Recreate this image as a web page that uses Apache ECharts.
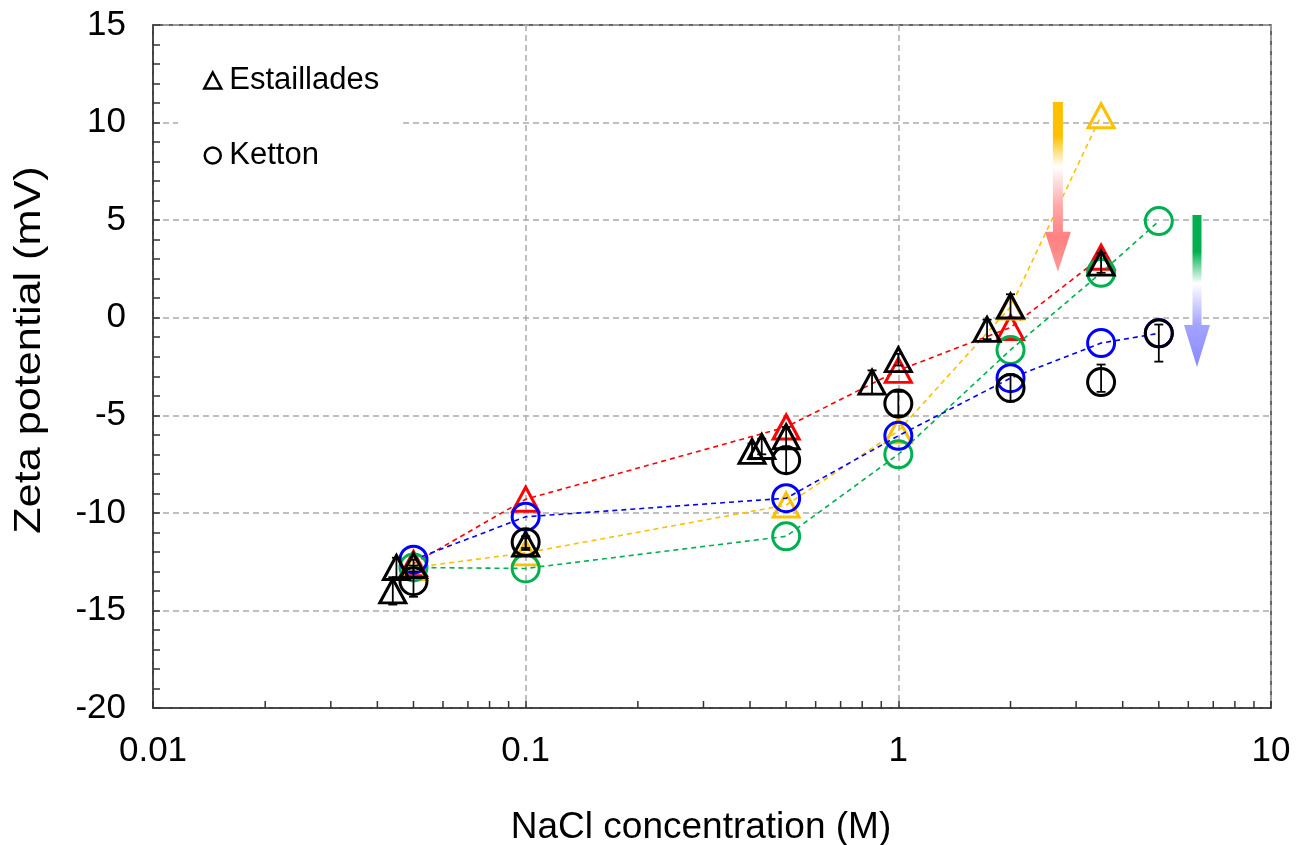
<!DOCTYPE html>
<html>
<head>
<meta charset="utf-8">
<script src="https://cdn.jsdelivr.net/npm/echarts@6/dist/echarts.min.js"></script>
<style>
html,body{margin:0;padding:0;background:#fff;}
#chart{width:1306px;height:845px;}
</style>
</head>
<body>
<div id="chart"></div>
<script>
// ---------- data ----------
const xTickLabels = ['0.01', '0.1', '1', '10'];
const xMinorTicks = [0.02,0.03,0.04,0.05,0.06,0.07,0.08,0.09,0.2,0.3,0.4,0.5,0.6,0.7,0.8,0.9,2,3,4,5,6,7,8,9];
const xTitle = 'NaCl concentration (M)';
const yTitle = 'Zeta potential (mV)';

const xShort = [0.05, 0.1, 0.5, 1, 2, 3.5];
const xLong  = [0.05, 0.1, 0.5, 1, 2, 3.5, 5];
const redVals    = [-12.6, -9.3, -5.6, -2.7, -0.5, 3.1];
const yellowVals = [-12.8, -12.05, -9.6, -5.8, 0.55, 10.35];
const greenVals  = [-12.8, -12.85, -11.2, -7.0, -1.65, 2.3, 4.95];
const blueVals   = [-12.4, -10.2, -9.25, -6.05, -3.1, -1.3, -0.8];

// Estaillades (black triangles) with error bars
const estX     = [0.045, 0.044, 0.05, 0.1, 0.405, 0.43, 0.5, 0.85, 1, 1.73, 2, 3.5];
const estY     = [-12.8, -14.0, -12.7, -11.6, -6.85, -6.6, -6.1, -3.3, -2.15, -0.6, 0.6, 2.8];
const estErrUp = [0.5, 0.7, 0.3, 0.3, 0.4, 0.4, 0.5, 0.6, 0.3, 0.5, 0.6, 0.5];
const estErrDn = [0.5, 0.7, 0.3, 0.3, 0.4, 0.4, 0.5, 0.6, 0.3, 0.5, 0.6, 0.5];

// Ketton (black circles) with error bars
const ketX     = [0.05, 0.1, 0.5, 1, 2, 3.5, 5];
const ketY     = [-13.5, -11.5, -7.3, -4.4, -3.6, -3.3, -0.8];
const ketErrUp = [0.8, 0.3, 0.65, 0.6, 0.7, 0.9, 0.45];
const ketErrDn = [0.8, 0.3, 0.65, 0.6, 0.7, 0.5, 1.45];

// ---------- helpers ----------
const zip = (xs, ys) => xs.map((x, i) => [x, ys[i]]);
const FONT = '"Liberation Sans", Arial, sans-serif';

const chart = echarts.init(document.getElementById('chart'), null, {renderer: 'canvas'});

function colored(name, color, xs, ys, symbol, z) {
  const isTri = symbol === 'triangle';
  return {
    name: name, type: 'line', data: zip(xs, ys), z: z,
    symbol: symbol, symbolSize: isTri ? [26, 24] : 27,
    showSymbol: true,
    lineStyle: {color: color, width: 1.6, type: [5, 4]},
    itemStyle: {color: 'rgba(0,0,0,0)', borderColor: color, borderWidth: 3, opacity: 1},
    emphasis: {disabled: true},
    silent: true, animation: false
  };
}

function errorSeries(xs, ys, up, dn, z) {
  return {
    type: 'custom', z: z, silent: true, animation: false,
    data: xs.map((x, i) => [x, ys[i], ys[i] + up[i], ys[i] - dn[i]]),
    encode: {x: 0, y: [1, 2, 3]},
    renderItem: function (params, api) {
      const hi = api.coord([api.value(0), api.value(2)]);
      const lo = api.coord([api.value(0), api.value(3)]);
      const cw = 4.5;
      const st = {stroke: '#000', lineWidth: 1.8};
      return {type: 'group', children: [
        {type: 'line', shape: {x1: hi[0], y1: hi[1], x2: lo[0], y2: lo[1]}, style: st},
        {type: 'line', shape: {x1: hi[0]-cw, y1: hi[1], x2: hi[0]+cw, y2: hi[1]}, style: st},
        {type: 'line', shape: {x1: lo[0]-cw, y1: lo[1], x2: lo[0]+cw, y2: lo[1]}, style: st}
      ]};
    }
  };
}

const option = {
  backgroundColor: '#fff',
  animation: false,
  grid: {left: 153, top: 25, right: 35, bottom: 137, show: true, borderColor: '#333', borderWidth: 1.5, backgroundColor: 'transparent'},
  legend: {
    orient: 'vertical', left: 178, top: 55,
    padding: [10, 24, 10, 25], backgroundColor: '#fff',
    itemWidth: 17, itemHeight: 16, itemGap: 44,
    selectedMode: false,
    textStyle: {fontFamily: FONT, fontSize: 31, color: '#000', padding: [0, 0, 0, 3]},
    data: [
      {name: 'Estaillades', icon: 'triangle', itemStyle: {color: '#fff', borderColor: '#000', borderWidth: 2.5, opacity: 1}},
      {name: 'Ketton', icon: 'circle', itemStyle: {color: '#fff', borderColor: '#000', borderWidth: 2.5, opacity: 1}}
    ]
  },
  xAxis: {
    type: 'log', logBase: 10, min: 0.01, max: 10,
    axisLine: {show: true, onZero: false, lineStyle: {color: '#333', width: 1.5}},
    axisTick: {show: true, inside: true, length: 7, lineStyle: {color: '#333', width: 1.5}},
    axisLabel: {margin: 26, fontFamily: FONT, fontSize: 35, color: '#000',
      formatter: function (v) { return xTickLabels[Math.round(Math.log10(v)) + 2]; }},
    splitLine: {show: true, lineStyle: {color: '#aaa', width: 1.5, type: [6, 4]}}
  },
  yAxis: {
    type: 'value', min: -20, max: 15, interval: 5,
    axisLine: {show: true, onZero: false, lineStyle: {color: '#333', width: 1.5}},
    axisTick: {show: true, inside: true, length: 7, lineStyle: {color: '#333', width: 1.5}},
    minorTick: {show: true, splitNumber: 5, length: 7, lineStyle: {color: '#333', width: 1.5}},
    axisLabel: {margin: 27, fontFamily: FONT, fontSize: 35, color: '#000'},
    splitLine: {show: true, lineStyle: {color: '#aaa', width: 1.5, type: [6, 4]}}
  },
  series: [
    {
      type: 'custom', silent: true, animation: false, z: 1,
      data: xMinorTicks.map(v => [v, -20]),
      encode: {x: 0, y: 1},
      renderItem: function (params, api) {
        const p = api.coord([api.value(0), api.value(1)]);
        return {type: 'line', shape: {x1: p[0], y1: p[1], x2: p[0], y2: p[1] - 7},
          style: {stroke: '#333', lineWidth: 1.5}};
      }
    },
    colored('red', '#FF0000', xShort, redVals, 'triangle', 3),
    colored('yellow', '#FFC000', xShort, yellowVals, 'triangle', 4),
    colored('green', '#00B050', xLong, greenVals, 'circle', 5),
    colored('blue', '#0000FF', xLong, blueVals, 'circle', 6),
    {
      name: 'Estaillades', type: 'scatter', z: 8, data: zip(estX, estY),
      symbol: 'triangle', symbolSize: [26, 24],
      itemStyle: {color: 'rgba(0,0,0,0)', borderColor: '#000', borderWidth: 3, opacity: 1},
      silent: true, animation: false
    },
    {
      name: 'Ketton', type: 'scatter', z: 8, data: zip(ketX, ketY),
      symbol: 'circle', symbolSize: 27,
      itemStyle: {color: 'rgba(0,0,0,0)', borderColor: '#000', borderWidth: 3, opacity: 1},
      silent: true, animation: false
    },
    errorSeries(estX, estY, estErrUp, estErrDn, 9),
    errorSeries(ketX, ketY, ketErrUp, ketErrDn, 9)
  ]
};
chart.setOption(option);

// ---------- gradient arrows (annotations anchored in data coords) + axis titles ----------
const arrows = [
  {x: 2.68, yTop: 11.05, yTip: 2.35, shaft: 10, headW: 26, headH: 40,
   stops: [[0, '#FFC000'], [0.2, '#FFC000'], [0.38, '#FFFFFF'], [0.62, '#FFA6A6'], [0.8, '#FF8080'], [1, '#FF9A9A']]},
  {x: 6.33, yTop: 5.26, yTip: -2.53, shaft: 9, headW: 26, headH: 42,
   stops: [[0, '#00B050'], [0.24, '#00B050'], [0.45, '#FFFFFF'], [0.72, '#A3A3FF'], [1, '#8A8AFF']]}
];
function drawExtras() {
  const els = arrows.map(a => {
    const top = chart.convertToPixel({gridIndex: 0}, [a.x, a.yTop]);
    const tip = chart.convertToPixel({gridIndex: 0}, [a.x, a.yTip]);
    const cx = top[0], hs = a.shaft / 2, hw = a.headW / 2, hb = tip[1] - a.headH;
    return {
      type: 'polygon', z: 20, silent: true,
      shape: {points: [[cx - hs, top[1]], [cx + hs, top[1]], [cx + hs, hb], [cx + hw, hb], [cx, tip[1]], [cx - hw, hb], [cx - hs, hb]]},
      style: {fill: new echarts.graphic.LinearGradient(0, 0, 0, 1,
        a.stops.map(s => ({offset: s[0], color: s[1]})))}
    };
  });
  els.push({
    type: 'text', x: 30, y: 350, rotation: Math.PI / 2, scaleX: 1.2, z: 20, silent: true,
    style: {text: yTitle, fontFamily: FONT, fontSize: 36, fill: '#000', align: 'center', verticalAlign: 'middle'}
  });
  els.push({
    type: 'text', x: 701, y: 828, z: 20, silent: true,
    style: {text: xTitle, fontFamily: FONT, fontSize: 37, fill: '#000', align: 'center', verticalAlign: 'middle'}
  });
  chart.setOption({graphic: els});
}
drawExtras();
</script>
</body>
</html>
